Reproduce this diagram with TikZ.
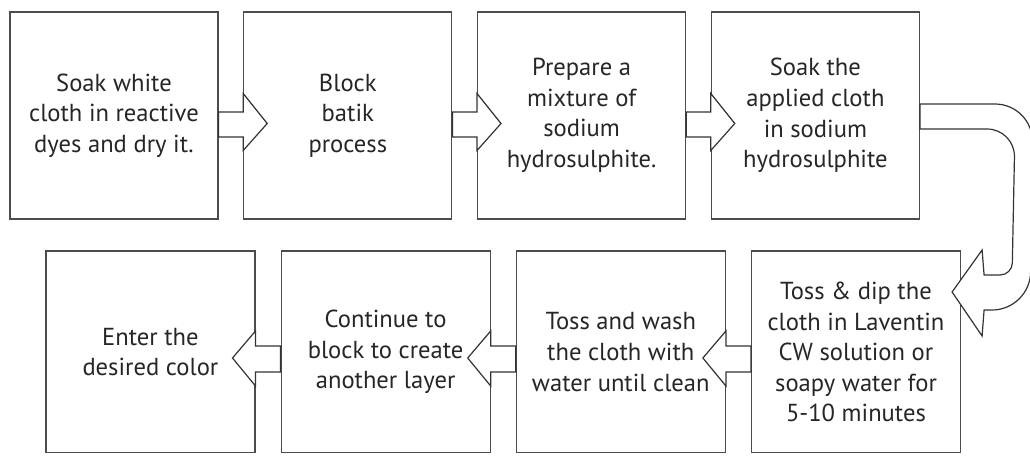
\documentclass[tikz,border=0pt]{standalone}
\usepackage{fontspec}
\setmainfont{PT Sans}
\usetikzlibrary{positioning,calc}

\tikzset{
  stepbox/.style={draw=black!70, line width=0.6pt, fill=white, align=center, text=black!85, inner sep=2pt,
    font=\fontsize{12.3}{15.3}\selectfont},
  toprow/.style={stepbox, minimum width=104pt, minimum height=103.5pt},
  botrow/.style={stepbox, minimum width=104.5pt, minimum height=101pt},
  fatarrow/.style={draw=black!80, fill=white, line width=0.6pt, line join=miter}
}

\begin{document}
\begin{tikzpicture}[x=0.5pt, y=-0.5pt]
  \useasboundingbox (0,0) rectangle (1030,456);
  \clip (0,0) rectangle (1030,452);
  % first row, left to right
  \node[toprow] (s1) at (114,115.5) {Soak white\\cloth in reactive\\dyes and dry it.};
  \node[toprow, right=12.3pt of s1] (s2) {Block\\batik\\process};
  \node[toprow, right=12.3pt of s2] (s3) {Prepare a\\mixture of\\sodium\\hydrosulphite.};
  \node[toprow, right=12.3pt of s3] (s4) {Soak the\\applied cloth\\in sodium\\hydrosulphite};
  % second row, right to left
  \node[botrow] (s5) at (856,352) {Toss \& dip the\\cloth in Laventin\\CW solution or\\soapy water for\\5-10 minutes};
  \node[botrow, left=12.5pt of s5] (s6) {Toss and wash\\the cloth with\\water until clean};
  \node[botrow, left=12.5pt of s6] (s7) {Continue to\\block to create\\another layer};
  \node[botrow, left=12.5pt of s7] (s8) {Enter the\\desired color};
  % fat arrows
  \foreach \a/\b in {s1/s2,s2/s3,s3/s4}
    \draw[fatarrow] ($(\a.east)+(0,-3.5)$) -- ($(\b.west)+(0,-3.5)$) -- ($(\b.west)+(0,-22)$)
      -- ($(\b.west)+(24,8)$) -- ($(\b.west)+(0,35)$) -- ($(\b.west)+(0,21.5)$)
      -- ($(\a.east)+(0,21.5)$) -- cycle;
  \foreach \a/\b in {s5/s6,s6/s7,s7/s8}
    \draw[fatarrow] ($(\a.west)+(0,-6)$) -- ($(\b.east)+(0,-6)$) -- ($(\b.east)+(0,-21)$)
      -- ($(\b.east)+(-23,6)$) -- ($(\b.east)+(0,34)$) -- ($(\b.east)+(0,20)$)
      -- ($(\a.west)+(0,20)$) -- cycle;
  % turn from first row to second row
  \draw[fatarrow] ($(s4.east)+(0,-11.5)$) [rounded corners=19pt] -- ($(s4.east)+(113,-11.5)$)
    -- ($(s5.east)+(69,-42)$) [sharp corners] -- ($(s5.east)+(23,-42)$) -- ($(s5.east)+(21,-16)$)
    -- ($(s5.east)+(-9,-60)$) -- ($(s5.east)+(21,-102)$) -- ($(s5.east)+(23,-77)$)
    [rounded corners=6pt] -- ($(s5.east)+(51,-77)$) [rounded corners=14pt] -- ($(s4.east)+(95,13.5)$)
    [sharp corners] -- ($(s4.east)+(0,13.5)$) -- cycle;
\end{tikzpicture}
\end{document}
